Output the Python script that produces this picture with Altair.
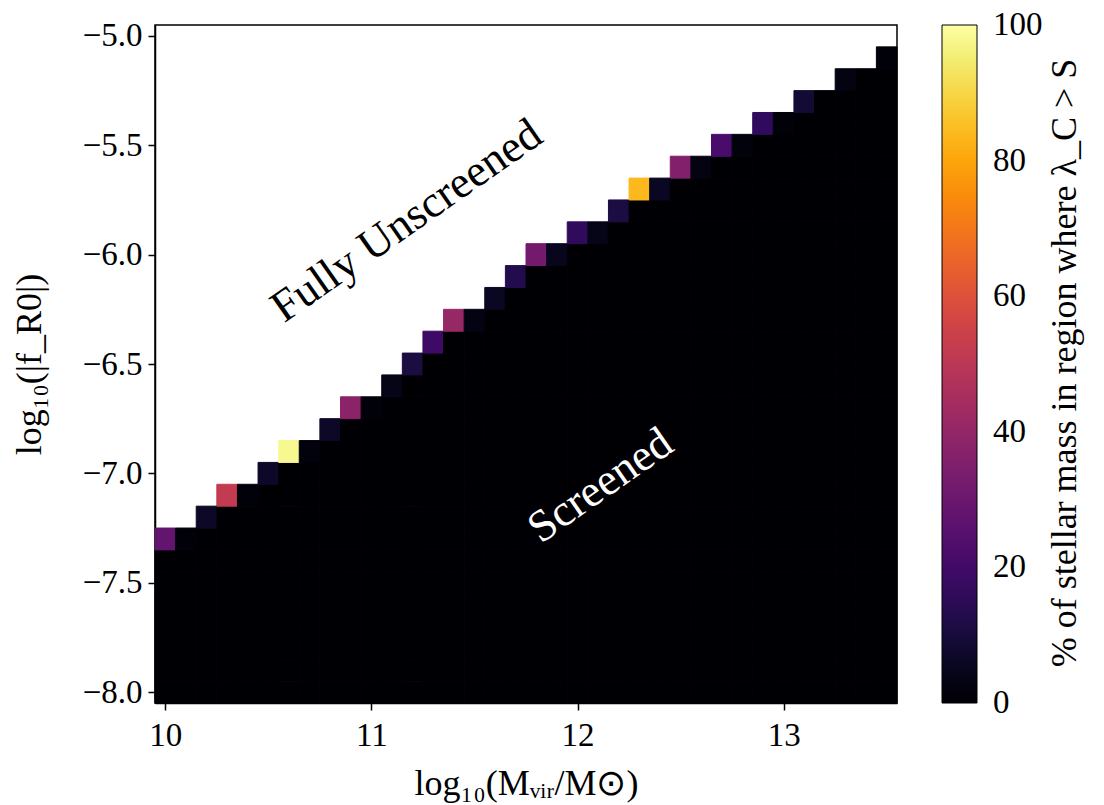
import altair as alt
import pandas as pd

# Column centres of log10(Mvir/Msun) bins
x_centers = [round(10.0 + 0.1 * i, 1) for i in range(36)]
# Highest filled log10(|fR0|) bin in each column
top_y = [-7.3, -7.3, -7.2, -7.1, -7.1, -7.0, -6.9, -6.9, -6.8, -6.7,
         -6.7, -6.6, -6.5, -6.4, -6.3, -6.3, -6.2, -6.1, -6.0, -6.0,
         -5.9, -5.9, -5.8, -5.7, -5.7, -5.6, -5.6, -5.5, -5.5, -5.4,
         -5.4, -5.3, -5.3, -5.2, -5.2, -5.1]
# Percentage in that top cell
top_val = [28, 1, 7, 52, 1, 7, 98, 2, 7, 38,
           1, 4, 11, 19, 41, 3, 6, 13, 32, 5,
           16, 4, 11, 84, 6, 36, 3, 22, 2, 16,
           1, 9, 0, 3, 0, 1]
# Lowest y bin and bin widths
y_bottom = -8.0
dx = 0.1
dy = 0.1
# Colour-bar tick labels (ends nudged a hair inside so they centre on the bar ends)
cbar_ticks = [0.001, 20, 40, 60, 80, 99.999]

rows = []
for xc, ty, tv in zip(x_centers, top_y, top_val):
    n = int(round((ty - y_bottom) / dy))
    for k in range(n + 1):
        yc = round(y_bottom + k * dy, 1)
        v = tv if k == n else 0
        rows.append({"x": round(xc - dx / 2, 3), "x2": round(xc + dx / 2, 3),
                     "y": round(yc - dy / 2, 3), "y2": round(yc + dy / 2, 3), "v": v})
df = pd.DataFrame(rows)

labels = pd.DataFrame({
    "x": [11.17, 12.11],
    "y": [-5.845, -7.055],
    "t": ["Fully Unscreened", "Screened"],
    "c": ["black", "white"],
})

cbar_title = "% of stellar mass in region where λ_C > S"

FONT = "Liberation Serif"
xs = alt.Scale(domain=[9.95, 13.55], nice=False, zero=False)
ys = alt.Scale(domain=[-8.05, -4.95], nice=False, zero=False)
cs = alt.Scale(scheme="inferno", domain=[0, 100])

heat = alt.Chart(df).transform_calculate(vs="datum.v").mark_rect(strokeWidth=1.0).encode(
    x=alt.X("x:Q", scale=xs, title="log₁₀(Mᵥᵢᵣ/M⊙)",
            axis=alt.Axis(values=[10, 11, 12, 13], format="d", grid=False)),
    x2="x2:Q",
    y=alt.Y("y:Q", scale=ys, title="log₁₀(|f_R0|)",
            axis=alt.Axis(values=[-8.0, -7.5, -7.0, -6.5, -6.0, -5.5, -5.0],
                          format=".1f", grid=False)),
    y2="y2:Q",
    color=alt.Color("v:Q", scale=cs, title=None,
                    legend=alt.Legend(type="gradient", orient="right", offset=45,
                                      gradientLength=678, gradientThickness=35,
                                      gradientStrokeColor="black", gradientStrokeWidth=1,
                                      values=cbar_ticks, format=".0f",
                                      labelFontSize=33, labelFont=FONT, labelOffset=16,
                                      labelColor="black")),
    stroke=alt.Stroke("vs:Q", scale=cs, legend=None),
)

text = alt.Chart(labels).mark_text(font=FONT, fontSize=45, angle=325,
                                   align="center", baseline="middle").encode(
    x=alt.X("x:Q", scale=xs),
    y=alt.Y("y:Q", scale=ys),
    text="t:N",
    color=alt.Color("c:N", scale=None),
)

ctitle = alt.Chart(pd.DataFrame({"t": [cbar_title]})).mark_text(
    font=FONT, fontSize=36, angle=270, align="center", baseline="middle", color="black"
).encode(x=alt.value(910), y=alt.value(338), text="t:N")

chart = alt.layer(heat, text, ctitle).resolve_scale(
    color="independent"
).properties(
    width=742, height=678,
    autosize=alt.AutoSizeParams(type="none"),
    padding={"left": 147, "top": 17, "right": 199, "bottom": 110},
).configure_view(
    stroke="black", strokeWidth=1.5
).configure_axis(
    labelFont=FONT, labelFontSize=33, labelColor="black",
    titleFont=FONT, titleFontSize=36, titleFontWeight="normal", titleColor="black",
    domainColor="black", domainWidth=1.5, tickColor="black", tickWidth=1.5, tickSize=7,
).configure_axisX(
    labelPadding=9, titlePadding=14
).configure_axisY(
    labelPadding=6, titlePadding=34
)

chart.save("out.html", embed_options={"renderer": "svg", "actions": False})
